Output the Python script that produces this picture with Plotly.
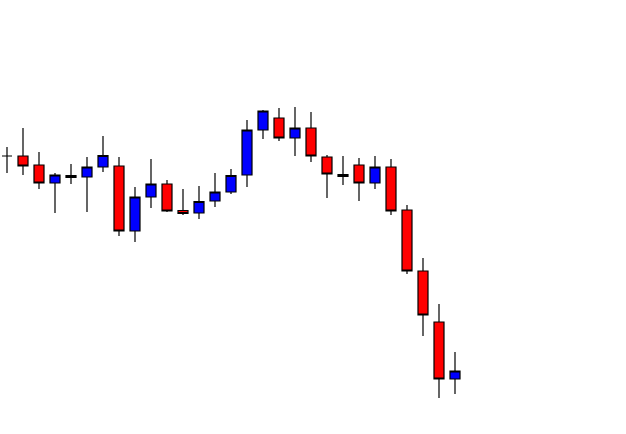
import plotly.graph_objects as go

# Candle index and OHLC values (price units = 434 - pixel row in reference)
idx = list(range(29))
open_px  = [156, 156, 165, 183, 175.5, 177, 167, 166, 231, 197, 184, 210.5, 213, 201, 192, 175, 130, 118, 138, 128, 157, 174.5, 165, 183, 167, 210, 271, 322, 379]
high_px  = [147, 128, 152, 173, 164, 157, 136, 157, 187, 159, 180, 189, 186, 173, 169, 120, 110, 108, 107, 112, 155, 156, 158, 156, 159, 205, 258, 304, 352]
low_px   = [173, 175, 189, 213, 184, 212, 172, 236, 242, 208, 212, 215, 219, 207, 194, 187, 139, 141, 156, 162, 198, 185, 201, 189, 215, 274, 336, 398, 394]
close_px = [156, 166, 183, 175, 177.5, 167, 155.5, 231, 197, 184, 211, 213.5, 201.5, 192, 175.5, 130, 111, 138, 128, 156, 174, 176.5, 183, 167, 211, 271, 315, 379, 371]

H = 434
o = [H - v for v in open_px]
h = [H - v for v in high_px]
l = [H - v for v in low_px]
c = [H - v for v in close_px]

fig = go.Figure(go.Candlestick(
    x=idx, open=o, high=h, low=l, close=c,
    increasing=dict(fillcolor="#0000FF", line=dict(color="#000000", width=1.2)),
    decreasing=dict(fillcolor="#FF0000", line=dict(color="#000000", width=1.2)),
    whiskerwidth=0,
    showlegend=False,
))

fig.update_layout(
    width=626, height=434,
    margin=dict(l=0, r=0, t=0, b=0),
    paper_bgcolor="white", plot_bgcolor="white",
    boxgap=0.375, boxgroupgap=0,
    xaxis=dict(range=[-0.4375, 38.6875], visible=False, rangeslider=dict(visible=False), fixedrange=True),
    yaxis=dict(range=[0, 434], visible=False, fixedrange=True),
)

fig.write_html("out.html", config={"displayModeBar": False},
               post_script="document.body.style.margin='0';document.body.style.overflow='hidden';")
